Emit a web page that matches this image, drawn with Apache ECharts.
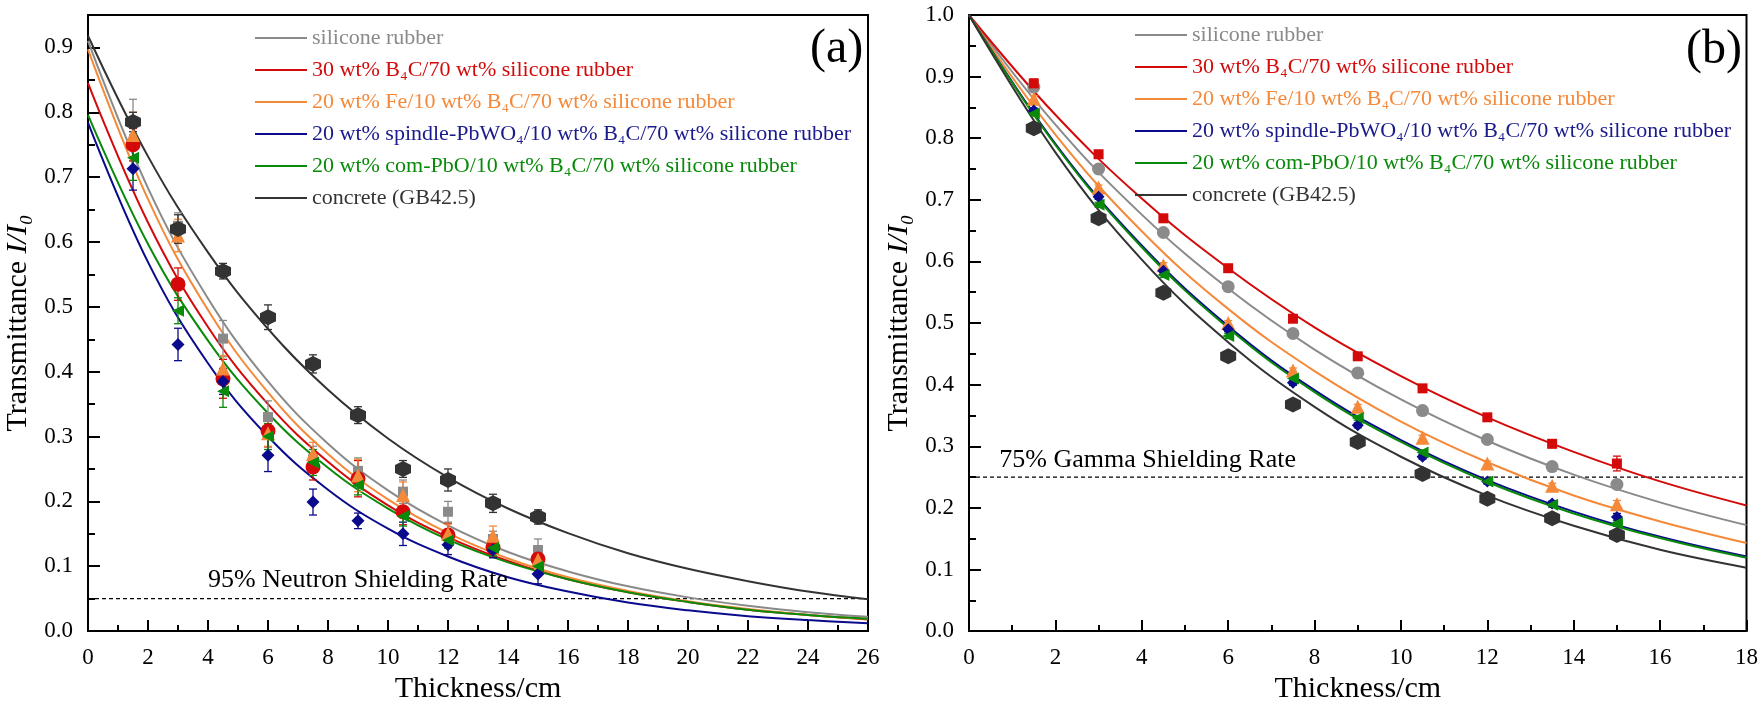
<!DOCTYPE html>
<html>
<head>
<meta charset="utf-8">
<title>Transmittance vs thickness</title>
<script src="https://cdn.jsdelivr.net/npm/echarts@6.0.0/dist/echarts.min.js"></script>
<style>
    html, body { margin: 0; padding: 0; background: #fff; }
    #chart { width: 1761px; height: 709px; }
</style>
</head>
<body>
<div id="chart"></div>
<script>
// material names, same order in both panels
var names = [
    'silicone rubber',
    '30 wt% B₄C/70 wt% silicone rubber',
    '20 wt% Fe/10 wt% B₄C/70 wt% silicone rubber',
    '20 wt% spindle-PbWO₄/10 wt% B₄C/70 wt% silicone rubber',
    '20 wt% com-PbO/10 wt% B₄C/70 wt% silicone rubber',
    'concrete (GB42.5)'
];
var lineColors = ['#8a8a8a', '#d40a0a', '#f5893a', '#0a0a8c', '#0a8a0a', '#333333'];
var textColors = ['#8a8a8a', '#d40a0a', '#f5893a', '#1a1a8c', '#0a8a0a', '#333333'];

// ---- panel (a): neutron ----
var thickA = [1.5, 3, 4.5, 6, 7.5, 9, 10.5, 12, 13.5, 15];
var siliconeA = [0.785, 0.625, 0.451, 0.330, 0.265, 0.247, 0.215, 0.184, 0.142, 0.125];
var b4cA      = [0.750, 0.535, 0.389, 0.309, 0.253, 0.235, 0.184, 0.148, 0.129, 0.111];
var feA       = [0.765, 0.610, 0.405, 0.305, 0.273, 0.240, 0.210, 0.150, 0.147, 0.110];
var pbwo4A    = [0.713, 0.442, 0.385, 0.271, 0.199, 0.170, 0.150, 0.133, 0.125, 0.088];
var pboA      = [0.730, 0.494, 0.370, 0.300, 0.260, 0.225, 0.177, 0.140, 0.128, 0.100];
var concreteA = [0.785, 0.620, 0.555, 0.484, 0.412, 0.333, 0.250, 0.233, 0.197, 0.176];

var siliconeErrA = [0.035, 0.020, 0.028, 0.025, 0.020, 0.020, 0.018, 0.016, 0.012, 0.017];
var b4cErrA      = [0.025, 0.025, 0.030, 0.025, 0.020, 0.028, 0.020, 0.018, 0.015, 0.020];
var feErrA       = [0.035, 0.025, 0.020, 0.020, 0.018, 0.025, 0.020, 0.015, 0.015, 0.015];
var pbwo4ErrA    = [0.033, 0.025, 0.020, 0.025, 0.020, 0.012, 0.018, 0.015, 0.012, 0.015];
var pboErrA      = [0.035, 0.020, 0.025, 0.020, 0.020, 0.015, 0.015, 0.012, 0.012, 0.012];
var concreteErrA = [0.015, 0.022, 0.012, 0.019, 0.014, 0.013, 0.013, 0.017, 0.014, 0.011];

var fitXA = [0, 2, 4, 6, 8, 10, 12, 14, 16, 18, 20, 22, 24, 26];
var siliconeFitA = [0.910, 0.683, 0.513, 0.385, 0.289, 0.217, 0.163, 0.122, 0.092, 0.069, 0.052, 0.039, 0.029, 0.022];
var b4cFitA      = [0.845, 0.630, 0.469, 0.350, 0.261, 0.194, 0.145, 0.108, 0.080, 0.060, 0.045, 0.033, 0.025, 0.018];
var feFitA       = [0.897, 0.666, 0.495, 0.368, 0.273, 0.203, 0.151, 0.112, 0.083, 0.062, 0.046, 0.034, 0.025, 0.019];
var pbwo4FitA    = [0.784, 0.569, 0.413, 0.300, 0.218, 0.158, 0.115, 0.083, 0.061, 0.044, 0.032, 0.023, 0.017, 0.012];
var pboFitA      = [0.796, 0.597, 0.448, 0.336, 0.252, 0.189, 0.141, 0.106, 0.080, 0.060, 0.045, 0.033, 0.025, 0.019];
var concreteFitA = [0.918, 0.732, 0.584, 0.466, 0.372, 0.297, 0.237, 0.189, 0.151, 0.120, 0.096, 0.077, 0.061, 0.049];

var neutronRate = 0.05;
var neutronLabelX = 4;

// ---- panel (b): gamma ----
var thickB = [1.5, 3, 4.5, 6, 7.5, 9, 10.5, 12, 13.5, 15];
var siliconeB = [0.883, 0.750, 0.647, 0.559, 0.483, 0.419, 0.358, 0.311, 0.267, 0.238];
var b4cB      = [0.889, 0.774, 0.670, 0.589, 0.507, 0.446, 0.394, 0.347, 0.304, 0.272];
var feB       = [0.864, 0.720, 0.594, 0.500, 0.423, 0.364, 0.314, 0.272, 0.236, 0.206];
var pbwo4B    = [0.845, 0.705, 0.585, 0.490, 0.403, 0.334, 0.283, 0.243, 0.207, 0.185];
var pboB      = [0.840, 0.692, 0.578, 0.479, 0.410, 0.346, 0.290, 0.243, 0.205, 0.175];
var concreteB = [0.816, 0.670, 0.549, 0.446, 0.368, 0.307, 0.255, 0.215, 0.183, 0.156];

var siliconeErrB = [0.005, 0.004, 0.004, 0.004, 0.004, 0.004, 0.004, 0.004, 0.004, 0.005];
var b4cErrB      = [0.007, 0.005, 0.005, 0.005, 0.005, 0.005, 0.005, 0.005, 0.006, 0.012];
var feErrB       = [0.005, 0.004, 0.004, 0.004, 0.004, 0.004, 0.004, 0.004, 0.004, 0.006];
var pbwo4ErrB    = [0.004, 0.004, 0.004, 0.004, 0.004, 0.004, 0.004, 0.004, 0.004, 0.006];
var pboErrB      = [0.004, 0.004, 0.004, 0.004, 0.004, 0.004, 0.004, 0.004, 0.004, 0.005];
var concreteErrB = [0.004, 0.004, 0.004, 0.004, 0.004, 0.004, 0.004, 0.004, 0.004, 0.004];

var fitXB = [0, 2, 4, 6, 8, 10, 12, 14, 16, 18];
var siliconeFitB = [1.000, 0.822, 0.676, 0.556, 0.457, 0.376, 0.309, 0.254, 0.209, 0.172];
var b4cFitB      = [1.000, 0.838, 0.702, 0.589, 0.493, 0.414, 0.347, 0.291, 0.243, 0.204];
var feFitB       = [1.000, 0.806, 0.649, 0.523, 0.422, 0.340, 0.274, 0.220, 0.178, 0.143];
var pbwo4FitB    = [1.000, 0.791, 0.626, 0.495, 0.391, 0.310, 0.245, 0.194, 0.153, 0.121];
var pboFitB      = [1.000, 0.789, 0.623, 0.492, 0.388, 0.307, 0.242, 0.191, 0.151, 0.119];
var concreteFitB = [1.000, 0.777, 0.603, 0.469, 0.364, 0.283, 0.220, 0.171, 0.132, 0.103];

var gammaRate = 0.25;
var gammaLabelX = 0.7;

var serif = "'Liberation Serif', 'Times New Roman', serif";
var hexagon = 'path://M0,-10L8.66,-5L8.66,5L0,10L-8.66,5L-8.66,-5Z';
var leftTri = 'path://M0,5L10,0L10,10Z';

var symbolsA = [['rect', 10], ['circle', 15], ['triangle', 14], ['diamond', 13], [leftTri, 12], [hexagon, 16]];
var symbolsB = [['circle', 13], ['rect', 10], ['triangle', 14], ['diamond', 12], [leftTri, 12], [hexagon, 16]];

function pairs(xs, ys) {
    var out = [];
    for (var i = 0; i < xs.length; i++) out.push([xs[i], ys[i]]);
    return out;
}
function errRows(xs, ys, es) {
    var out = [];
    for (var i = 0; i < xs.length; i++) out.push([xs[i], ys[i] - es[i], ys[i] + es[i]]);
    return out;
}
function renderErr(params, api) {
    var x = api.value(0);
    var p1 = api.coord([x, api.value(2)]);
    var p2 = api.coord([x, api.value(1)]);
    var c = 4;
    var st = { stroke: api.visual('color'), lineWidth: 1.3 };
    return {
        type: 'group',
        children: [
            { type: 'line', shape: { x1: p1[0], y1: p1[1], x2: p2[0], y2: p2[1] }, style: st },
            { type: 'line', shape: { x1: p1[0] - c, y1: p1[1], x2: p1[0] + c, y2: p1[1] }, style: st },
            { type: 'line', shape: { x1: p2[0] - c, y1: p2[1], x2: p2[0] + c, y2: p2[1] }, style: st }
        ]
    };
}

function buildPanel(idx, thick, vals, errs, fitX, fits, symbols) {
    var list = [];
    for (var i = 0; i < names.length; i++) {
        list.push({
            name: names[i],
            type: 'line',
            xAxisIndex: idx, yAxisIndex: idx,
            data: pairs(fitX, fits[i]),
            smooth: 0.4,
            symbol: 'none',
            color: lineColors[i],
            lineStyle: { width: 2, color: lineColors[i] },
            silent: true,
            z: 2
        });
    }
    for (var i = 0; i < names.length; i++) {
        list.push({
            name: 'err' + idx + '-' + i,
            type: 'custom',
            xAxisIndex: idx, yAxisIndex: idx,
            data: errRows(thick, vals[i], errs[i]),
            encode: { x: 0, y: [1, 2] },
            renderItem: renderErr,
            itemStyle: { color: lineColors[i] },
            silent: true,
            z: 3
        });
    }
    for (var i = 0; i < names.length; i++) {
        list.push({
            name: 'pts' + idx + '-' + i,
            type: 'scatter',
            xAxisIndex: idx, yAxisIndex: idx,
            data: pairs(thick, vals[i]),
            symbol: symbols[i][0],
            symbolSize: symbols[i][1],
            itemStyle: { color: lineColors[i], opacity: 1 },
            silent: true,
            z: 4 + i
        });
    }
    return list;
}

var seriesA = buildPanel(0, thickA,
    [siliconeA, b4cA, feA, pbwo4A, pboA, concreteA],
    [siliconeErrA, b4cErrA, feErrA, pbwo4ErrA, pboErrA, concreteErrA],
    fitXA,
    [siliconeFitA, b4cFitA, feFitA, pbwo4FitA, pboFitA, concreteFitA],
    symbolsA);
var seriesB = buildPanel(1, thickB,
    [siliconeB, b4cB, feB, pbwo4B, pboB, concreteB],
    [siliconeErrB, b4cErrB, feErrB, pbwo4ErrB, pboErrB, concreteErrB],
    fitXB,
    [siliconeFitB, b4cFitB, feFitB, pbwo4FitB, pboFitB, concreteFitB],
    symbolsB);

// shielding-rate dashed lines
seriesA.push({
    name: 'neutron rate', type: 'line', xAxisIndex: 0, yAxisIndex: 0,
    data: [[0, neutronRate], [26, neutronRate]], symbol: 'none', silent: true,
    lineStyle: { color: '#000', width: 1.3, type: [4, 3] }, z: 1
});
seriesB.push({
    name: 'gamma rate', type: 'line', xAxisIndex: 1, yAxisIndex: 1,
    data: [[0, gammaRate], [18, gammaRate]], symbol: 'none', silent: true,
    lineStyle: { color: '#000', width: 1.3, type: [4, 3] }, z: 1
});

// legend items: plain line icon, coloured serif text
var legendData = names.map(function (n, i) {
    return {
        name: n,
        icon: 'rect',
        itemStyle: { color: lineColors[i] },
        textStyle: { color: textColors[i], fontFamily: serif, fontSize: 22, lineHeight: 24 }
    };
});

function xAxisCfg(idx, max, gap) {
    return {
        type: 'value', gridIndex: idx, min: 0, max: max, interval: 2,
        name: 'Thickness/cm', nameLocation: 'middle', nameGap: gap,
        nameTextStyle: { fontFamily: serif, fontSize: 30, color: '#000' },
        axisLine: { onZero: false, lineStyle: { color: '#000', width: 2 } },
        axisTick: { inside: true, length: 11, lineStyle: { color: '#000', width: 2 } },
        minorTick: { show: true, splitNumber: 2, length: 6, lineStyle: { color: '#000', width: 2 } },
        axisLabel: { fontFamily: serif, fontSize: 23, color: '#000', margin: 15 },
        splitLine: { show: false }
    };
}
function yAxisCfg(idx, max) {
    return {
        type: 'value', gridIndex: idx, min: 0, max: max, interval: 0.1,
        name: '{n|Transmittance }{i|I/I₀}', nameLocation: 'middle', nameGap: 55,
        nameTextStyle: {
            color: '#000',
            rich: {
                n: { fontFamily: serif, fontSize: 30, color: '#000' },
                i: { fontFamily: serif, fontSize: 30, fontStyle: 'italic', color: '#000' }
            }
        },
        axisLine: { onZero: false, lineStyle: { color: '#000', width: 2 } },
        axisTick: { inside: true, length: 12, lineStyle: { color: '#000', width: 2 } },
        minorTick: { show: true, splitNumber: 2, length: 7, lineStyle: { color: '#000', width: 2 } },
        axisLabel: {
            fontFamily: serif, fontSize: 23, color: '#000', margin: 15, showMaxLabel: max === 1,
            formatter: function (v) { return v.toFixed(1); }
        },
        splitLine: { show: false }
    };
}

var legendBase = {
    orient: 'vertical', itemWidth: 52, itemHeight: 2, itemGap: 8,
    selectedMode: false, data: legendData,
    textStyle: { fontFamily: serif, fontSize: 22, lineHeight: 24 }
};

var option = {
    backgroundColor: '#fff',
    animation: false,
    grid: [
        { left: 88, top: 15, width: 780, height: 624, show: true, borderColor: '#000', borderWidth: 2 },
        { left: 969, top: 15, width: 779, height: 624, show: true, borderColor: '#000', borderWidth: 2 }
    ],
    legend: [
        Object.assign({}, legendBase, { left: 250, top: 21 }),
        Object.assign({}, legendBase, { left: 1130, top: 18 })
    ],
    xAxis: [xAxisCfg(0, 26, 38), xAxisCfg(1, 18, 33)],
    yAxis: [yAxisCfg(0, 0.95), yAxisCfg(1, 1)],
    series: seriesA.concat(seriesB)
};

var chart = echarts.init(document.getElementById('chart'));
chart.setOption(option);

var pa = chart.convertToPixel({ gridIndex: 0 }, [neutronLabelX, neutronRate]);
var pb = chart.convertToPixel({ gridIndex: 1 }, [gammaLabelX, gammaRate]);
chart.setOption({
    graphic: [
        { type: 'text', x: pa[0], y: pa[1] - 19, z: 10,
          style: { text: '95% Neutron Shielding Rate', fontFamily: serif, fontSize: 26, fill: '#000',
                   align: 'left', verticalAlign: 'middle', textAlign: 'left', textVerticalAlign: 'middle' } },
        { type: 'text', x: pb[0], y: pb[1] - 17, z: 10,
          style: { text: '75% Gamma Shielding Rate', fontFamily: serif, fontSize: 26, fill: '#000',
                   align: 'left', verticalAlign: 'middle', textAlign: 'left', textVerticalAlign: 'middle' } },
        { type: 'text', x: 810, y: 49, z: 10,
          style: { text: '(a)', fontFamily: serif, fontSize: 48, fill: '#000',
                   align: 'left', verticalAlign: 'middle', textAlign: 'left', textVerticalAlign: 'middle' } },
        { type: 'text', x: 1686, y: 50, z: 10,
          style: { text: '(b)', fontFamily: serif, fontSize: 48, fill: '#000',
                   align: 'left', verticalAlign: 'middle', textAlign: 'left', textVerticalAlign: 'middle' } }
    ]
});

window.addEventListener('resize', function () { chart.resize(); });
</script>
</body>
</html>
